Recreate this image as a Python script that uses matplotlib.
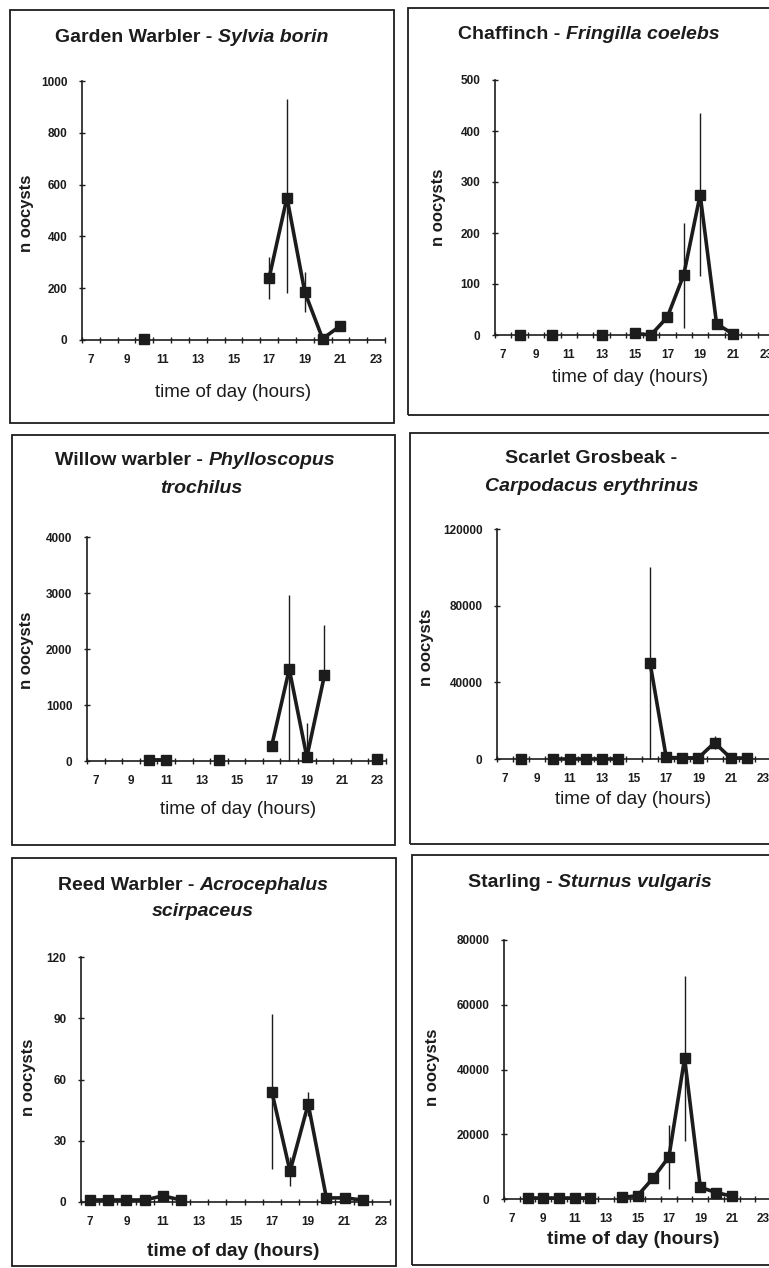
import numpy as np
import pandas as pd
import matplotlib
matplotlib.use("Agg")
import matplotlib.pyplot as plt
from matplotlib.patches import Rectangle

plt.rcParams['font.family'] = ['Liberation Sans', 'DejaVu Sans']

W, H = 769, 1268
INK = '#1c1c1c'

# ---- data ----
hours_all = list(range(7, 24))
hour_labels = list(range(7, 24, 2))

gw_hours = [10, 17, 18, 19, 20, 21]
gw_mean = [2, 240, 550, 185, 5, 55]
gw_lo = [0, 80, 370, 77, 0, 0]
gw_hi = [0, 80, 380, 77, 0, 0]

ch_hours = [8, 10, 13, 15, 16, 17, 18, 19, 20, 21]
ch_mean = [0, 0, 0, 3, 0, 35, 118, 275, 22, 2]
ch_lo = [0, 0, 0, 0, 0, 0, 104, 160, 0, 0]
ch_hi = [0, 0, 0, 0, 0, 0, 102, 160, 0, 0]

ww_hours = [10, 11, 14, 17, 18, 19, 20, 23]
ww_mean = [20, 20, 20, 270, 1640, 70, 1530, 40]
ww_lo = [0, 0, 0, 0, 1640, 0, 0, 0]
ww_hi = [0, 0, 0, 0, 1330, 610, 900, 0]

sg_hours = [8, 10, 11, 12, 13, 14, 16, 17, 18, 19, 20, 21, 22]
sg_mean = [0, 0, 0, 0, 0, 0, 50000, 800, 600, 600, 8500, 500, 500]
sg_lo = [0, 0, 0, 0, 0, 0, 50000, 0, 0, 0, 3500, 0, 0]
sg_hi = [0, 0, 0, 0, 0, 0, 50000, 0, 0, 0, 3500, 0, 0]

rw_hours = [7, 8, 9, 10, 11, 12, 17, 18, 19, 20, 21, 22]
rw_mean = [1, 1, 1, 1, 3, 1, 54, 15, 48, 2, 2, 1]
rw_lo = [0, 0, 0, 0, 0, 0, 38, 7, 6, 0, 0, 0]
rw_hi = [0, 0, 0, 0, 0, 0, 38, 7, 6, 0, 0, 0]

st_hours = [8, 9, 10, 11, 12, 14, 15, 16, 17, 18, 19, 20, 21]
st_mean = [300, 300, 300, 300, 300, 500, 1000, 6500, 13000, 43500, 3600, 2000, 900]
st_lo = [0, 0, 0, 0, 0, 0, 0, 0, 9800, 25500, 0, 0, 0]
st_hi = [0, 0, 0, 0, 0, 0, 0, 0, 9800, 25500, 0, 0, 0]

ymax_list = [1000, 500, 4000, 120000, 120, 80000]
ystep_list = [200, 100, 1000, 40000, 30, 20000]

TITLE_FS = 14

fig = plt.figure(figsize=(W / 100, H / 100), dpi=100)
fig.patch.set_facecolor('white')


def fx(px):
    return px / W


def fy(py):
    return 1 - py / H


def make_axes(x0, x1, ytop, ybot):
    return fig.add_axes([fx(x0), fy(ybot), (x1 - x0) / W, (ybot - ytop) / H])


def panel_box(x0, y0, x1, y1):
    fig.add_artist(Rectangle((fx(x0), fy(y1)), (x1 - x0) / W, (y1 - y0) / H,
                             transform=fig.transFigure, fill=False,
                             lw=1.3, ec=INK))


def draw_panel(ax, hours, mean, lo, hi, ymax, ystep):
    s = pd.Series(mean, index=hours, dtype=float).reindex(hours_all)
    ax.errorbar(hours, mean, yerr=[lo, hi], fmt='none', ecolor=INK,
                elinewidth=1.0, capsize=0, clip_on=False, zorder=2)
    ax.plot(s.index, s.values, '-s', color=INK, lw=2.6, ms=6.5,
            clip_on=False, zorder=3)
    ax.set_xlim(6.5, 23.5)
    ax.set_ylim(0, ymax)
    for sp in ['top', 'right']:
        ax.spines[sp].set_visible(False)
    for sp in ['left', 'bottom']:
        ax.spines[sp].set_linewidth(1.2)
        ax.spines[sp].set_color(INK)
    ax.set_xticks(hour_labels)
    ax.set_xticklabels([str(h) for h in hour_labels])
    ax.set_xticks(np.arange(6.5, 24, 1.0), minor=True)
    ax.tick_params(axis='x', which='major', length=0, pad=10,
                   labelsize=8.5, colors=INK)
    ax.tick_params(axis='x', which='minor', length=5, direction='inout',
                   width=1.0, color=INK)
    yt = np.arange(0, ymax + ystep, ystep)
    ax.set_yticks(yt)
    ax.set_yticklabels([str(int(v)) for v in yt])
    ax.tick_params(axis='y', length=5, direction='inout', width=1.0,
                   pad=8, labelsize=8.5, colors=INK)
    for lab in ax.get_xticklabels() + ax.get_yticklabels():
        lab.set_fontweight('bold')


def title(ax, x, y, common, sci):
    t1 = fig.text(fx(x), fy(y), common, ha='left', va='baseline',
                  fontsize=TITLE_FS, fontweight='bold', color=INK)
    if sci:
        ax.annotate(sci, xy=(1, 0), xycoords=t1, ha='left', va='bottom',
                    fontsize=TITLE_FS, fontweight='bold', fontstyle='italic',
                    color=INK, annotation_clip=False)


def title2(x, y, sci):
    fig.text(fx(x), fy(y), sci, ha='left', va='baseline', fontsize=TITLE_FS,
             fontweight='bold', fontstyle='italic', color=INK)


def labels(ylx, yly, xlx, xly, big=False):
    fig.text(fx(ylx), fy(yly), 'n oocysts', rotation=90, ha='center',
             va='center', fontsize=12, fontweight='bold', color=INK)
    if big:
        fig.text(fx(xlx), fy(xly), 'time of day (hours)', ha='center',
                 va='center', fontsize=13.8, fontweight='bold', color=INK)
    else:
        fig.text(fx(xlx), fy(xly), 'time of day (hours)', ha='center',
                 va='center', fontsize=13.5, color=INK)


# panel frames
panel_box(10, 10, 394, 423)
panel_box(408, 8, 780, 415)
panel_box(12, 435, 395, 845)
panel_box(410, 433, 780, 844)
panel_box(12, 858, 396, 1266)
panel_box(412, 855, 780, 1265)

# Garden Warbler
ax1 = make_axes(82, 385, 81, 340)
draw_panel(ax1, gw_hours, gw_mean, gw_lo, gw_hi, ymax_list[0], ystep_list[0])
title(ax1, 55, 42, 'Garden Warbler - ', 'Sylvia borin')
labels(27, 213, 233, 392)

# Chaffinch
ax2 = make_axes(495, 774, 80, 335)
draw_panel(ax2, ch_hours, ch_mean, ch_lo, ch_hi, ymax_list[1], ystep_list[1])
title(ax2, 458, 39, 'Chaffinch - ', 'Fringilla coelebs')
labels(438, 207, 630, 378)

# Willow warbler
ax3 = make_axes(87, 386, 537, 761)
draw_panel(ax3, ww_hours, ww_mean, ww_lo, ww_hi, ymax_list[2], ystep_list[2])
title(ax3, 55, 465, 'Willow warbler - ', 'Phylloscopus')
title2(160, 493, 'trochilus')
labels(26, 650, 238, 810)

# Scarlet Grosbeak
ax4 = make_axes(497, 771, 529, 759)
draw_panel(ax4, sg_hours, sg_mean, sg_lo, sg_hi, ymax_list[3], ystep_list[3])
title(ax4, 505, 463, 'Scarlet Grosbeak -', None)
title2(485, 491, 'Carpodacus erythrinus')
labels(427, 647, 633, 800)

# Reed Warbler
ax5 = make_axes(81, 390, 957, 1202)
draw_panel(ax5, rw_hours, rw_mean, rw_lo, rw_hi, ymax_list[4], ystep_list[4])
title(ax5, 58, 890, 'Reed Warbler - ', 'Acrocephalus')
title2(152, 916, 'scirpaceus')
labels(28, 1077, 233, 1251, big=True)

# Starling
ax6 = make_axes(504, 771, 940, 1199)
draw_panel(ax6, st_hours, st_mean, st_lo, st_hi, ymax_list[5], ystep_list[5])
title(ax6, 468, 887, 'Starling - ', 'Sturnus vulgaris')
labels(432, 1067, 633, 1240, big=True)

fig.savefig('out.png', dpi=100)
